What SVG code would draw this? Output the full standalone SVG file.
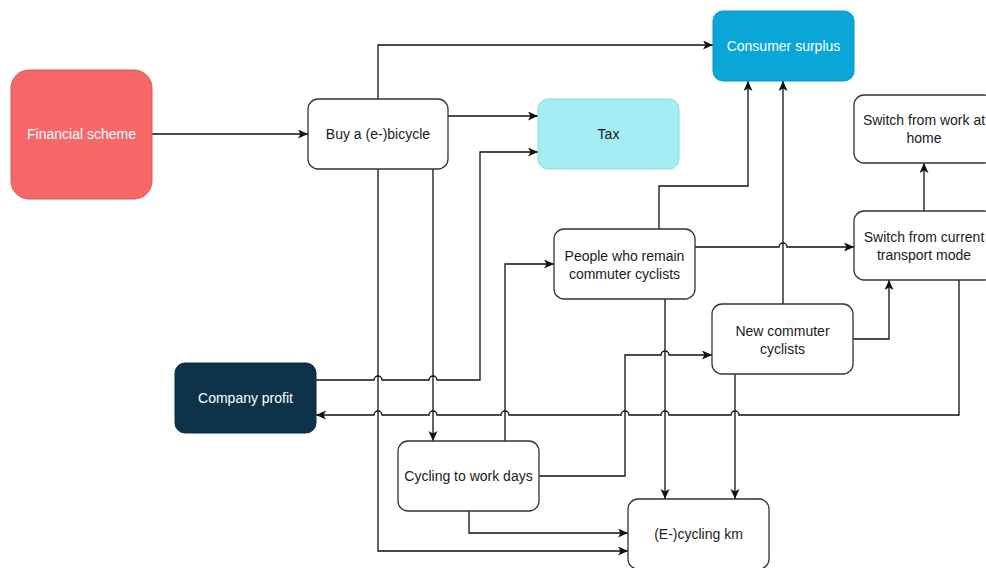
<svg xmlns="http://www.w3.org/2000/svg" width="986" height="568" viewBox="0 0 986 568">
<style>
  .box { fill: #ffffff; stroke: #333333; stroke-width: 1.3; }
  .t { font-family: "Liberation Sans", Arial, Helvetica, sans-serif; font-size: 14px; fill: #1a1a1a; text-anchor: middle; dominant-baseline: central; }
  .tw { fill: #ffffff; }
  .e { fill: none; stroke: #111111; stroke-width: 1.3; }
  .ea { marker-end: url(#arr); }
</style>
<defs>
  <marker id="arr" markerUnits="userSpaceOnUse" markerWidth="12" markerHeight="10" refX="10" refY="4.5" orient="auto">
    <path d="M0,0 L10,4.5 L0,9 L2.5,4.5 z" fill="#111111"/>
  </marker>
</defs>
<rect width="986" height="568" fill="#ffffff"/>

<g id="connectors">
  <path class="e ea" d="M152,134 L308,134"/>
  <path class="e ea" d="M378,99 L378,45 L713,45"/>
  <path class="e ea" d="M448,116 L538,116"/>
  <path class="e ea" d="M316,380 L374,380 A4,4 0 0 1 382,380 L429,380 A4,4 0 0 1 437,380 L480,380 L480,152 L538,152"/>
  <path class="e ea" d="M378,169 L378,551 L628,551"/>
  <path class="e ea" d="M433,169 L433,441"/>
  <path class="e ea" d="M505,441 L505,264 L554,264"/>
  <path class="e ea" d="M539,476 L625,476 L625,355 L661,355 A4,4 0 0 1 669,355 L712,355"/>
  <path class="e ea" d="M469,511 L469,533 L628,533"/>
  <path class="e ea" d="M659,229 L659,186 L748,186 L748,81"/>
  <path class="e ea" d="M695,247 L779,247 A4,4 0 0 1 787,247 L854,247"/>
  <path class="e ea" d="M665,299 L665,499"/>
  <path class="e ea" d="M783,304 L783,81"/>
  <path class="e ea" d="M853,339 L889,339 L889,280"/>
  <path class="e ea" d="M735,374 L735,499"/>
  <path class="e ea" d="M924,211 L924,163"/>
  <path class="e ea" d="M959,280 L959,415 L739,415 A4,4 0 0 0 731,415 L669,415 A4,4 0 0 0 661,415 L629,415 A4,4 0 0 0 621,415 L509,415 A4,4 0 0 0 501,415 L437,415 A4,4 0 0 0 429,415 L382,415 A4,4 0 0 0 374,415 L316,415"/>
</g>

<g id="financial-scheme">
  <rect x="11" y="70" width="141" height="129" rx="18" fill="#F66767" stroke="#D85A5A" stroke-width="1"/>
  <text class="t tw" x="81.5" y="134">Financial scheme</text>
</g>
<g id="buy-bicycle">
  <rect class="box" x="308" y="99" width="140" height="70" rx="10"/>
  <text class="t" x="378" y="134">Buy a (e-)bicycle</text>
</g>
<g id="tax">
  <rect x="538" y="99" width="141" height="70" rx="10" fill="#A3EDF3" stroke="#8ED9E2" stroke-width="1"/>
  <text class="t" x="608.5" y="134">Tax</text>
</g>
<g id="consumer-surplus">
  <rect x="713" y="11" width="141" height="70" rx="10" fill="#0AA6D7" stroke="#0A93C0" stroke-width="1"/>
  <text class="t tw" x="783.5" y="46">Consumer surplus</text>
</g>
<g id="switch-work-home">
  <rect class="box" x="854" y="95" width="140" height="68" rx="10"/>
  <text class="t" x="924" y="120">Switch from work at</text>
  <text class="t" x="924" y="138">home</text>
</g>
<g id="switch-transport">
  <rect class="box" x="854" y="211" width="140" height="69" rx="10"/>
  <text class="t" x="924" y="237">Switch from current</text>
  <text class="t" x="924" y="255">transport mode</text>
</g>
<g id="remain-cyclists">
  <rect class="box" x="554" y="229" width="141" height="70" rx="10"/>
  <text class="t" x="624.5" y="256">People who remain</text>
  <text class="t" x="624.5" y="274">commuter cyclists</text>
</g>
<g id="new-cyclists">
  <rect class="box" x="712" y="304" width="141" height="70" rx="10"/>
  <text class="t" x="782.5" y="331">New commuter</text>
  <text class="t" x="782.5" y="349">cyclists</text>
</g>
<g id="company-profit">
  <rect x="175" y="363" width="141" height="70" rx="10" fill="#0C3349" stroke="#0A2A3C" stroke-width="1"/>
  <text class="t tw" x="245.5" y="398">Company profit</text>
</g>
<g id="cycling-days">
  <rect class="box" x="398" y="441" width="141" height="70" rx="10"/>
  <text class="t" x="468.5" y="476">Cycling to work days</text>
</g>
<g id="cycling-km">
  <rect class="box" x="628" y="499" width="141" height="70" rx="10"/>
  <text class="t" x="698.5" y="534">(E-)cycling km</text>
</g>
</svg>
